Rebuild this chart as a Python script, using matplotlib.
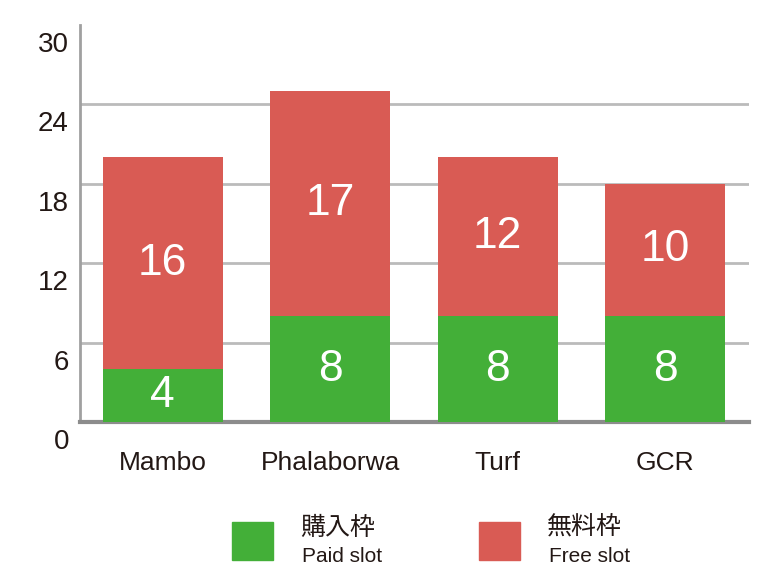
import matplotlib
matplotlib.use("Agg")
import matplotlib.pyplot as plt
from matplotlib.patches import Rectangle
from matplotlib.transforms import ScaledTranslation

# data
courses = ["Mambo", "Phalaborwa", "Turf", "GCR"]
paid = [4, 8, 8, 8]
free = [16, 17, 12, 10]
yticks = [0, 6, 12, 18, 24, 30]
legend_jp = ["購入枠", "無料枠"]
legend_en = ["Paid slot", "Free slot"]

green = "#43AF38"
red = "#D95B54"
txt = "#231815"

plt.rcParams["font.family"] = ["Liberation Sans", "Noto Sans CJK JP", "DejaVu Sans"]

fig = plt.figure(figsize=(7.73, 5.68), dpi=100)
ax = fig.add_axes([80 / 773, 1 - 422 / 568, 669 / 773, 397 / 568])

x = range(len(courses))
ax.bar(x, paid, width=0.716, color=green, zorder=3)
ax.bar(x, free, width=0.716, bottom=paid, color=red, zorder=3)

for i in x:
    ax.text(i, paid[i] / 2, str(paid[i]), color="white", fontsize=32,
            ha="center", va="center", zorder=4)
    ax.text(i, paid[i] + free[i] / 2, str(free[i]), color="white", fontsize=32,
            ha="center", va="center", zorder=4)

ax.set_xlim(-0.4925, 3.5)
ax.set_ylim(0, 30)
ax.set_yticks(yticks)
ax.set_yticklabels([str(v) for v in yticks], fontsize=20, color=txt)
ax.set_xticks(list(x))
ax.set_xticklabels(courses, fontsize=19, color=txt)
ax.tick_params(axis="both", length=0)
ax.tick_params(axis="y", pad=8)
ax.tick_params(axis="x", pad=21)

# y labels sit a bit below their gridline
off = ScaledTranslation(0, -17 / 100, fig.dpi_scale_trans)
for lab in ax.get_yticklabels():
    lab.set_transform(lab.get_transform() + off)

for v in yticks[1:-1]:
    ax.axhline(v, color="#BBBBBB", lw=2, zorder=1)

for s in ["top", "right"]:
    ax.spines[s].set_visible(False)
ax.spines["left"].set_color("#A0A0A0")
ax.spines["left"].set_linewidth(2)
ax.spines["bottom"].set_color("#8C8C8C")
ax.spines["bottom"].set_linewidth(3)

# legend
for k, (col, xs) in enumerate([(green, 232), (red, 479)]):
    fig.patches.append(Rectangle((xs / 773, 1 - 560 / 568), 41 / 773, 38 / 568,
                                 transform=fig.transFigure, color=col))
    fig.text((xs + 68) / 773, 1 - 528 / 568, legend_jp[k], fontsize=18,
             color=txt, va="center", ha="left")
    fig.text((xs + 70) / 773, 1 - 557 / 568, legend_en[k], fontsize=15,
             color=txt, va="center", ha="left")

fig.savefig("out.png", dpi=100)
